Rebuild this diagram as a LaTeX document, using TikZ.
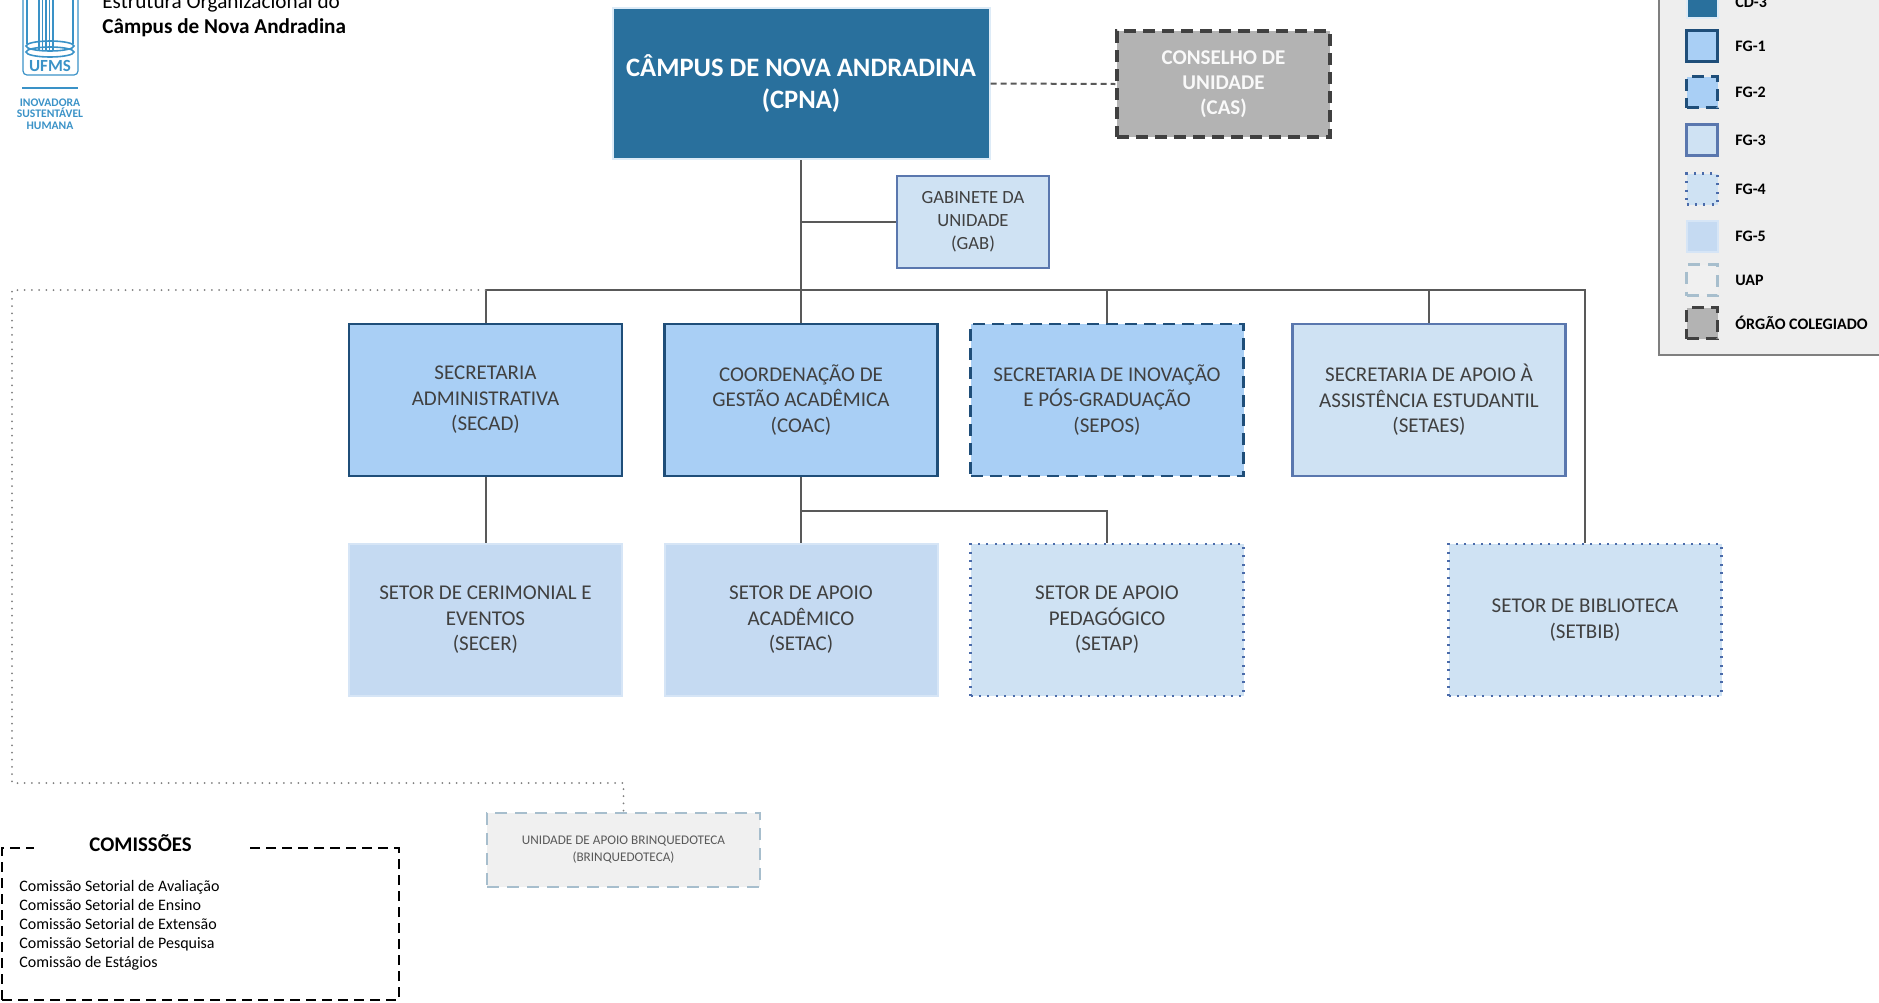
\documentclass[tikz,border=0pt]{standalone}
\usepackage{fontspec}
\setmainfont{Carlito}
\usepackage{tikz}

\definecolor{cdblue}{HTML}{29709D}
\definecolor{cdedge}{HTML}{DDEBF7}
\definecolor{fgfill}{HTML}{A9CFF5}
\definecolor{fgdark}{HTML}{1F4E79}
\definecolor{fglight}{HTML}{CFE2F3}
\definecolor{fgmid}{HTML}{5A77AE}
\definecolor{fgdot}{HTML}{4A6BAA}
\definecolor{fgpale}{HTML}{C5DAF2}
\definecolor{uapfill}{HTML}{F0F0F0}
\definecolor{uapedge}{HTML}{A7BECD}
\definecolor{casgray}{HTML}{B3B3B3}
\definecolor{casedge}{HTML}{404040}
\definecolor{textgray}{HTML}{404040}
\definecolor{linegray}{HTML}{595959}
\definecolor{legendgray}{HTML}{EEEEEE}
\definecolor{legendedge}{HTML}{7F7F7F}
\definecolor{ufmsblue}{HTML}{3A92C7}

\tikzset{
  orgtext/.style={text=textgray, align=center, inner sep=0pt, font=\fontsize{10.5}{12.8}\selectfont},
  cdbox/.style={fill=cdblue, draw=cdedge, line width=1pt},
  fgone/.style={fill=fgfill, draw=fgdark, line width=1.3pt},
  fgtwo/.style={fill=fgfill, draw=fgdark, line width=1.3pt, dash pattern=on 6pt off 3.5pt},
  fgthree/.style={fill=fglight, draw=fgmid, line width=1.1pt},
  fgfour/.style={fill=fglight, draw=fgdot, line width=1.1pt, dash pattern=on 1pt off 3.2pt},
  fgfive/.style={fill=fgpale, draw=fgpale!70!white, line width=1pt},
  uapbox/.style={fill=uapfill, draw=uapedge, line width=1.3pt, dash pattern=on 6pt off 4pt},
  orgbox/.style={fill=casgray, draw=casedge, line width=1.6pt, dash pattern=on 6pt off 3.5pt},
  rowbox/.style={orgtext, minimum width=136.5pt, minimum height=76pt},
  conn/.style={draw=linegray, line width=1pt},
}

\begin{document}
\begin{tikzpicture}[x=0.5pt, y=-0.5pt]
        % Fix the page size
        \useasboundingbox (0,0) rectangle (1879,1002);

        % Draw the logo
        \draw[ufmsblue, line width=0.6pt, rounded corners=2pt] (23,-20) rectangle (78,75);
        \foreach \lx in {27,73} {
            \draw[ufmsblue, line width=0.6pt] (\lx,-5) -- (\lx,44);
        }
        \foreach \lx in {39,42.5,46,49.5,53} {
            \draw[ufmsblue, line width=0.9pt] (\lx,-5) -- (\lx,50);
        }
        \draw[ufmsblue, line width=0.8pt] (50,46) ellipse (12pt and 2.5pt);
        \draw[ufmsblue, line width=0.8pt] (50,52) ellipse (12pt and 2.5pt);
        \node[text=ufmsblue, inner sep=0pt, font=\bfseries\fontsize{8.5}{9}\selectfont] (ufms) at (50,66) {UFMS};
        \draw[ufmsblue, line width=0.6pt] (22,88) -- (78,88);
        \node[text=ufmsblue, align=center, inner sep=0pt, font=\bfseries\fontsize{5.8}{5.8}\selectfont] (motto) at (50,114) {INOVADORA\\SUSTENTÁVEL\\HUMANA};

        % Add title
        \node[anchor=base west, inner sep=0pt, font=\fontsize{10.6}{12}\selectfont] (title1) at (102,8) {Estrutura Organizacional do};
        \node[anchor=base west, inner sep=0pt, font=\bfseries\fontsize{10.6}{12}\selectfont] (title2) at (102,33) {Câmpus de Nova Andradina};

        % Draw the top of the structure
        \node[cdbox, orgtext, text=white, font=\bfseries\fontsize{13.3}{16}\selectfont, minimum width=188.5pt, minimum height=75.5pt] (cpna) at (801,83.5) {CÂMPUS DE NOVA ANDRADINA\\(CPNA)};
        \node[orgbox, orgtext, text=white!95!gray, font=\bfseries\fontsize{10.5}{12.6}\selectfont, minimum width=106.5pt, minimum height=53pt] (cas) at (1223.5,84) {CONSELHO DE\\UNIDADE\\(CAS)};
        \node[fgthree, orgtext, font=\fontsize{9.3}{11.5}\selectfont, minimum width=76pt, minimum height=46pt] (gab) at (973,222) {GABINETE DA\\UNIDADE\\(GAB)};

        % Draw the first row
        \node[fgone, rowbox] (secad) at (485.5,400) {SECRETARIA\\ADMINISTRATIVA\\(SECAD)};
        \node[fgone, rowbox] (coac) at (801,400) {COORDENAÇÃO DE\\GESTÃO ACADÊMICA\\(COAC)};
        \node[fgtwo, rowbox] (sepos) at (1107,400) {SECRETARIA DE INOVAÇÃO\\E PÓS-GRADUAÇÃO\\(SEPOS)};
        \node[fgthree, rowbox] (setaes) at (1429,400) {SECRETARIA DE APOIO À\\ASSISTÊNCIA ESTUDANTIL\\(SETAES)};

        % Draw the second row
        \node[fgfive, rowbox] (secer) at (485.5,620) {SETOR DE CERIMONIAL E\\EVENTOS\\(SECER)};
        \node[fgfive, rowbox] (setac) at (801,620) {SETOR DE APOIO\\ACADÊMICO\\(SETAC)};
        \node[fgfour, rowbox] (setap) at (1107,620) {SETOR DE APOIO\\PEDAGÓGICO\\(SETAP)};
        \node[fgfour, rowbox] (setbib) at (1585,620) {SETOR DE BIBLIOTECA\\(SETBIB)};

        % Unit of support
        \node[uapbox, orgtext, text=linegray, font=\fontsize{6.6}{8.6}\selectfont, minimum width=136.5pt, minimum height=37pt] (uap) at (623.5,850) {UNIDADE DE APOIO BRINQUEDOTECA\\(BRINQUEDOTECA)};

        % Draw the connectors
        \coordinate (bus) at (801,290);
        \coordinate (subbus) at (801,511);
        \coordinate (dotcorner) at (12,783);
        \draw[conn, dash pattern=on 3pt off 2pt] (cpna.east) -- (cas.west);
        \draw[conn] (cpna.south) -- (coac.north);
        \draw[conn] (cpna.south |- gab.west) -- (gab.west);
        \draw[conn] (secad.north) |- (setbib.north |- bus) -- (setbib.north);
        \draw[conn] (sepos.north) -- (sepos.north |- bus);
        \draw[conn] (setaes.north) -- (setaes.north |- bus);
        \draw[conn] (secad.south) -- (secer.north);
        \draw[conn] (coac.south) -- (setac.north);
        \draw[conn] (subbus) -| (setap.north);
        \draw[legendedge, line width=1pt, line cap=round, dash pattern=on 0pt off 3.6pt] (secad.north |- bus) -| (dotcorner) -| (uap.north);

        % Draw the commissions
        \node[draw=black, line width=1pt, dash pattern=on 5pt off 3pt, minimum width=198.5pt, minimum height=76pt, inner sep=0pt] (comframe) at (200.5,924) {};
        \node[fill=white, minimum width=106.5pt, minimum height=14pt, inner sep=0pt, font=\bfseries\fontsize{10.4}{12}\selectfont] (comtitle) at (140.5,843) {COMISSÕES};
        \foreach \item [count=\i] in {Comissão Setorial de Avaliação, Comissão Setorial de Ensino, Comissão Setorial de Extensão, Comissão Setorial de Pesquisa, Comissão de Estágios} {
            \node[anchor=base west, inner sep=0pt, font=\fontsize{8}{9.5}\selectfont] (com\i) at (19,{872+19*\i}) {\item};
        }

        % Draw the legend
        \draw[fill=legendgray, draw=legendedge, line width=1pt] (1659,-10) rectangle (1895,355);
        \foreach \sty/\lab/\yy [count=\i] in {cdbox/CD-3/2, fgone/FG-1/46, fgtwo/FG-2/92, fgthree/FG-3/140, fgfour/FG-4/189, fgfive/FG-5/236, uapbox/UAP/280, orgbox/ÓRGÃO COLEGIADO/323} {
            \node[\sty, minimum size=15.5pt, inner sep=0pt] (sw\i) at (1702,\yy) {};
            \node[anchor=west, inner sep=0pt, font=\bfseries\fontsize{8}{9.6}\selectfont] (lab\i) at (1735,\yy) {\lab};
        }
    \end{tikzpicture}
\end{document}
